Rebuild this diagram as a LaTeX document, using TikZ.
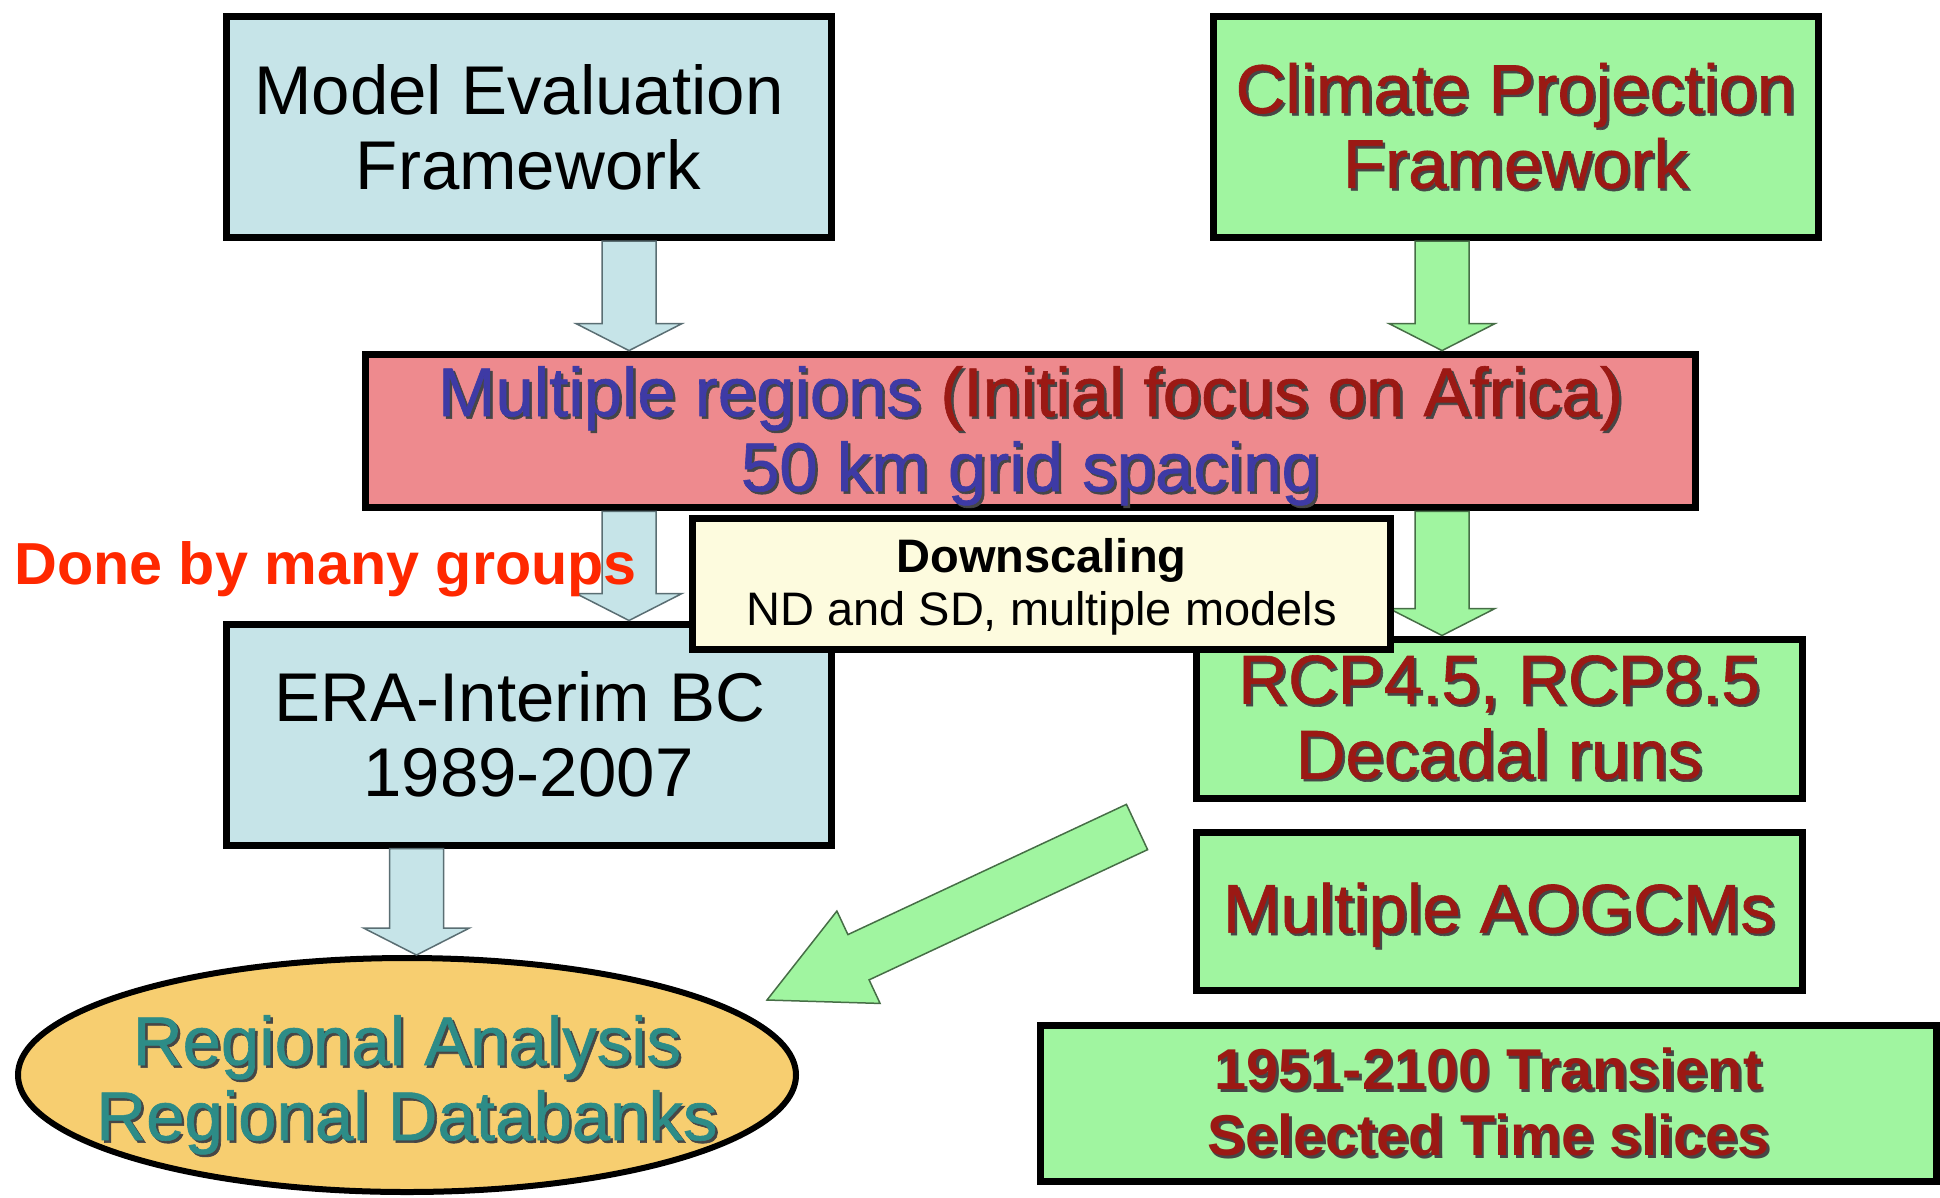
\documentclass[tikz,border=0pt]{standalone}
\usepackage{fontspec}
\setmainfont{Liberation Sans}
\newfontfamily\heavyfam[FakeBold=0.9]{Liberation Sans}
\usetikzlibrary{calc,shapes.geometric}
\definecolor{boxblue}{RGB}{198,228,232}
\definecolor{boxgreen}{RGB}{160,245,160}
\definecolor{boxred}{RGB}{238,138,142}
\definecolor{cream}{RGB}{253,251,222}
\definecolor{gold}{RGB}{247,206,112}
\definecolor{dkred}{RGB}{155,25,20}
\definecolor{txtblue}{RGB}{62,58,165}
\definecolor{tealtxt}{RGB}{45,140,135}
\definecolor{donered}{RGB}{255,40,0}
\definecolor{shadowc}{RGB}{70,70,70}
\definecolor{blueedge}{RGB}{90,110,115}
\definecolor{greenedge}{RGB}{70,110,70}
\newcommand{\shd}[2]{{\heavyfam\makebox[0pt][l]{\hspace{2.5pt}\raisebox{-2.5pt}{\textcolor{shadowc}{#2}}}\textcolor{#1}{#2}}}
\newcommand{\shdb}[2]{\makebox[0pt][l]{\hspace{2.5pt}\raisebox{-2.5pt}{\textcolor{shadowc}{#2}}}\textcolor{#1}{#2}}
\newcommand{\vblk}[4]{%
  \draw[#1] ($(#2 |- #3)+(-27,0)$) -- ($(#2 |- #4)+(-27,-27)$) -- ($(#2 |- #4)+(-53,-27)$)
    -- (#2 |- #4) -- ($(#2 |- #4)+(53,-27)$) -- ($(#2 |- #4)+(27,-27)$) -- ($(#2 |- #3)+(27,0)$) -- cycle;}
\tikzset{
  box/.style={draw=black, line width=7pt, inner sep=0pt, align=center, rectangle},
  bigtxt/.style={font=\fontsize{69pt}{75pt}\selectfont},
  bluearrow/.style={fill=boxblue, draw=blueedge, line width=1.5pt, line join=miter},
  greenarrow/.style={fill=boxgreen, draw=greenedge, line width=1.5pt, line join=miter}
}
\begin{document}
\begin{tikzpicture}[x=1pt,y=-1pt]
\useasboundingbox[fill=white] (0,0) rectangle (1940,1197);
% boxes
\node[box, fill=boxblue, minimum width=605pt, minimum height=221pt, bigtxt] (meval) at (528.5,127)
  {Model Evaluation\rule{19pt}{0pt}\\Framework};
\node[box, fill=boxgreen, minimum width=605pt, minimum height=221pt, bigtxt] (cproj) at (1515.5,127)
  {\shd{dkred}{Climate Projection}\\\shd{dkred}{Framework}};
\node[box, fill=boxred, minimum width=1330pt, minimum height=153pt, bigtxt] (red) at (1030.5,431)
  {\rule{0pt}{62pt}\shd{txtblue}{Multiple regions} \shd{dkred}{(Initial focus on Africa)}\\\shd{txtblue}{50 km grid spacing}};
\node[box, fill=boxblue, minimum width=605pt, minimum height=221pt, bigtxt] (era) at (528.5,734.5)
  {ERA-Interim BC\rule{17pt}{0pt}\\1989-2007};
\node[box, fill=boxgreen, minimum width=606pt, minimum height=159pt, bigtxt] (rcp) at (1499,718.5)
  {\shd{dkred}{RCP4.5, RCP8.5}\\\shd{dkred}{Decadal runs}};
\node[box, fill=boxgreen, minimum width=606pt, minimum height=158pt, bigtxt] (aogcm) at (1499,911)
  {\rule{0pt}{60pt}\shd{dkred}{Multiple AOGCMs}};
\node[box, fill=boxgreen, minimum width=896pt, minimum height=156pt, font=\bfseries\fontsize{57.6pt}{66pt}\selectfont] (trans) at (1488.5,1103.5)
  {\shdb{dkred}{1951-2100 Transient}\\\shdb{dkred}{Selected Time slices}};
\node[ellipse, draw=black, line width=6pt, fill=gold, minimum width=778pt, minimum height=234pt, inner sep=0pt] (ell) at (407,1075) {};
\node[align=center, inner sep=0pt, bigtxt] (elltxt) at (ell.center)
  {\rule{0pt}{72pt}\shd{tealtxt}{Regional Analysis}\\\shd{tealtxt}{Regional Databanks}};
% block arrows
\coordinate (ax1) at (629,0);
\coordinate (ax2) at (1442,0);
\coordinate (ax3) at (416.5,0);
\vblk{bluearrow}{ax1}{meval.south}{red.north}
\vblk{greenarrow}{ax2}{cproj.south}{red.north}
\vblk{bluearrow}{ax1}{red.south}{era.north}
\vblk{greenarrow}{ax2}{red.south}{rcp.north}
\vblk{bluearrow}{ax3}{era.south}{ell.north}
% diagonal arrow
\coordinate (dtail) at (1137,827);
\coordinate (dtip) at (767,1000);
\coordinate (dhb) at ($(dtip)!101pt!(dtail)$);
\draw[greenarrow] ($(dtail)!25pt!90:(dtip)$) -- ($(dhb)!25pt!90:(dtip)$) -- ($(dhb)!51pt!90:(dtip)$)
  -- (dtip) -- ($(dhb)!51pt!-90:(dtip)$) -- ($(dhb)!25pt!-90:(dtip)$) -- ($(dtail)!25pt!-90:(dtip)$) -- cycle;
% overlay box and label
\node[box, fill=cream, minimum width=698pt, minimum height=131pt, font=\fontsize{47pt}{53pt}\selectfont] (down) at (1041.5,584)
  {\rule{0pt}{39pt}\textbf{Downscaling}\\ND and SD, multiple models};
\node[anchor=base west, inner sep=0pt, text=donered, font=\bfseries\fontsize{59.3pt}{60pt}\selectfont] (done) at (14,584) {Done by many groups};
\end{tikzpicture}
\end{document}
